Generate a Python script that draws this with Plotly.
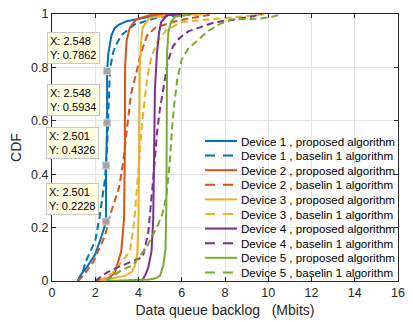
import plotly.graph_objects as go

# ---------------- data ----------------
series_names = [
    "Device 1 , proposed algorithm", "Device 1 , baselin 1 algorithm",
    "Device 2 , proposed algorithm", "Device 2 , baselin 1 algorithm",
    "Device 3 , proposed algorithm", "Device 3 , baselin 1 algorithm",
    "Device 4 , proposed algorithm", "Device 4 , baselin 1 algorithm",
    "Device 5 , proposed algorithm", "Device 5 , baselin 1 algorithm",
]
series_colors = ["#0072BD", "#0072BD", "#D95319", "#D95319", "#EDB120",
                 "#EDB120", "#7E2F8E", "#7E2F8E", "#77AC30", "#77AC30"]
series_dashed = [False, True] * 5

d1p_x = [1.2, 1.3, 1.6, 2.0, 2.3, 2.5, 2.5, 2.548, 2.548, 2.6, 2.75, 2.9, 3.1, 3.45, 4.5, 6.0]
d1p_y = [0.0, 0.02, 0.05, 0.1, 0.17, 0.2228, 0.4326, 0.5934, 0.7862, 0.85, 0.92, 0.948, 0.96, 0.973, 0.99, 1.0]
d1b_x = [1.2, 1.4, 1.6, 2.0, 2.2, 2.45, 2.55, 2.62, 2.68, 2.82, 3.0, 3.2, 3.8, 5.0, 7.0]
d1b_y = [0.0, 0.03, 0.08, 0.15, 0.24, 0.38, 0.5, 0.65, 0.79, 0.855, 0.89, 0.92, 0.96, 0.99, 1.0]

d2p_x = [2.0, 2.6, 2.9, 3.05, 3.2, 3.33, 3.37, 3.38, 3.45, 3.6, 3.9, 4.5, 5.5]
d2p_y = [0.0, 0.01, 0.03, 0.07, 0.11, 0.23, 0.5, 0.8, 0.9, 0.95, 0.98, 0.995, 1.0]
d2b_x = [1.2, 1.45, 1.9, 2.45, 2.7, 3.1, 3.3, 3.5, 3.65, 3.9, 4.1, 4.4, 4.8, 5.8, 7.5]
d2b_y = [0.0, 0.02, 0.07, 0.17, 0.25, 0.35, 0.45, 0.6, 0.7, 0.78, 0.85, 0.92, 0.95, 0.975, 1.0]

d3p_x = [2.2, 2.8, 3.4, 3.7, 3.85, 3.95, 4.0, 4.03, 4.06, 4.12, 4.2, 4.5, 5.5, 7.0]
d3p_y = [0.0, 0.01, 0.02, 0.035, 0.06, 0.11, 0.25, 0.5, 0.8, 0.9, 0.95, 0.985, 0.998, 1.0]
d3b_x = [2.2, 2.8, 3.3, 3.6, 3.8, 3.95, 4.0, 4.15, 4.3, 4.4, 4.6, 4.9, 5.3, 6.0, 8.0, 10.0]
d3b_y = [0.0, 0.03, 0.08, 0.11, 0.22, 0.36, 0.42, 0.58, 0.7, 0.76, 0.84, 0.9, 0.94, 0.97, 0.985, 1.0]

d4p_x = [4.15, 4.3, 4.45, 4.6, 4.68, 4.71, 4.76, 4.85, 4.95, 5.05, 5.3, 6.0]
d4p_y = [0.0, 0.02, 0.05, 0.11, 0.23, 0.5, 0.72, 0.85, 0.93, 0.97, 0.995, 1.0]
d4b_x = [2.0, 2.5, 3.0, 3.6, 4.2, 4.45, 4.6, 4.7, 4.85, 5.0, 5.15, 5.35, 5.6, 5.9, 6.3, 6.8, 7.5, 8.5, 9.2, 9.7]
d4b_y = [0.0, 0.03, 0.05, 0.07, 0.09, 0.18, 0.3, 0.4, 0.55, 0.65, 0.72, 0.82, 0.88, 0.91, 0.935, 0.95, 0.968, 0.98, 0.99, 1.0]

d5p_x = [2.5, 4.0, 4.5, 4.8, 5.0, 5.15, 5.25, 5.29, 5.3, 5.32, 5.38, 5.5, 5.7, 6.5]
d5p_y = [0.0, 0.003, 0.006, 0.01, 0.02, 0.06, 0.12, 0.3, 0.6, 0.85, 0.93, 0.97, 0.99, 1.0]
d5b_x = [2.5, 3.2, 3.75, 4.1, 4.4, 4.9, 5.1, 5.3, 5.45, 5.55, 5.65, 5.8, 6.0, 6.3, 6.7, 7.2, 7.7, 8.3, 9.5, 10.2, 10.6]
d5b_y = [0.0, 0.04, 0.06, 0.1, 0.13, 0.21, 0.25, 0.32, 0.45, 0.57, 0.66, 0.76, 0.83, 0.87, 0.9, 0.935, 0.96, 0.98, 0.982, 0.99, 1.0]

series_x = [d1p_x, d1b_x, d2p_x, d2b_x, d3p_x, d3b_x, d4p_x, d4b_x, d5p_x, d5b_x]
series_y = [d1p_y, d1b_y, d2p_y, d2b_y, d3p_y, d3b_y, d4p_y, d4b_y, d5p_y, d5b_y]

tip_x = [2.548, 2.548, 2.501, 2.501]
tip_y = [0.7862, 0.5934, 0.4326, 0.2228]

x_ticks = [0, 2, 4, 6, 8, 10, 12, 14, 16]
y_ticks = [0, 0.2, 0.4, 0.6, 0.8, 1]

# ---------------- figure ----------------
FONT = "Liberation Sans, Arial, Helvetica, sans-serif"
TXT = "#262626"
OFF = 8  # page body margin of the html page
FIG_W, FIG_H = 413 - OFF, 322 - OFF
# plot box in window pixels
L, R, T, B = 52, 398, 14, 281
W, H = R - L, B - T

fig = go.Figure()

for name, xs, ys, col, dashed in zip(series_names, series_x, series_y, series_colors, series_dashed):
    fig.add_trace(go.Scatter(
        x=xs, y=ys, mode="lines", name=name, showlegend=False,
        line=dict(color=col, width=2, dash="7px,4px" if dashed else "solid"),
    ))

# data-tip markers
fig.add_trace(go.Scatter(
    x=tip_x, y=tip_y, mode="markers", showlegend=False, hoverinfo="skip",
    marker=dict(symbol="square", size=7, color="#A5A5A5",
                line=dict(color="#D0D0D0", width=1)),
))

annotations = []
for tx, ty in zip(tip_x, tip_y):
    annotations.append(dict(
        x=tx, y=ty, xref="x", yref="y", showarrow=False,
        text=f"X: {tx:.3f}<br>Y: {ty:.4f}",
        xanchor="right", yanchor="bottom", xshift=-7, yshift=7,
        align="left", bgcolor="#FFFFE1", bordercolor="#C8C8C8",
        borderwidth=1, borderpad=2,
        font=dict(family=FONT, size=11, color="#000000"),
    ))

# compact legend drawn like the original
shapes = []
for i, (name, col, dashed) in enumerate(zip(series_names, series_colors, series_dashed)):
    ypx = 141 + i * 14.6
    yp = 1 - (ypx - T) / H
    shapes.append(dict(
        type="line", xref="paper", yref="paper",
        x0=(205 - L) / W, x1=(237 - L) / W, y0=yp, y1=yp,
        line=dict(color=col, width=2, dash="10px,8px" if dashed else "solid"),
    ))
    annotations.append(dict(
        x=(239 - L) / W, y=yp, xref="paper", yref="paper", showarrow=False,
        text=name, xanchor="left", yanchor="middle",
        font=dict(family=FONT, size=11.6, color="#000000"),
    ))

axis_common = dict(
    showgrid=True, gridcolor="#E3E3E3", gridwidth=1,
    showline=True, linecolor=TXT, linewidth=1, mirror="ticks",
    ticks="inside", ticklen=4, tickcolor=TXT, zeroline=False,
    ticklabeloverflow="allow",
    tickfont=dict(family=FONT, size=12.5, color=TXT),
)

NB = "\u00a0"
fig.update_layout(
    width=FIG_W, height=FIG_H,
    margin=dict(l=L - OFF, r=413 - R, t=T - OFF, b=322 - B, autoexpand=False),
    paper_bgcolor="white", plot_bgcolor="white",
    font=dict(family=FONT, size=12, color=TXT),
    xaxis=dict(range=[0, 16], tickvals=x_ticks,
               title=dict(text=f"Data queue backlog{NB}{NB}{NB}(Mbits)", standoff=6,
                          font=dict(family=FONT, size=14, color=TXT)),
               **axis_common),
    yaxis=dict(range=[0, 1], tickvals=y_ticks,
               title=dict(text="CDF", standoff=8,
                          font=dict(family=FONT, size=14, color=TXT)),
               **axis_common),
    annotations=annotations,
    shapes=shapes,
    showlegend=False,
)

fig.write_html("out.html")
